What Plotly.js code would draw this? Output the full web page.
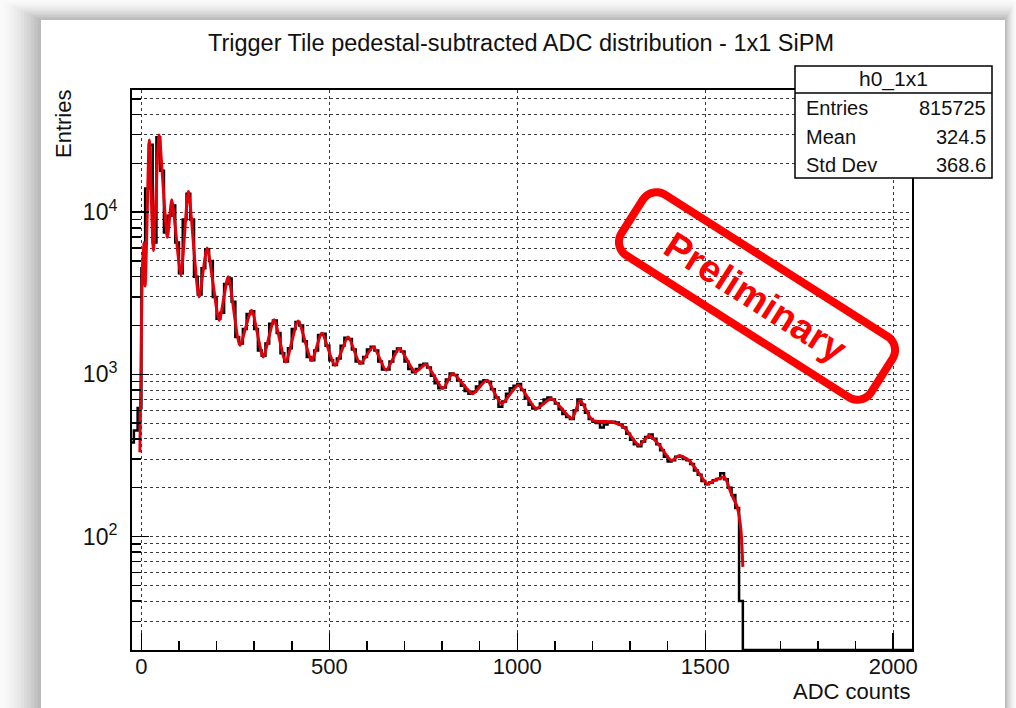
<!DOCTYPE html>
<html><head><meta charset="utf-8">
<script src="https://cdn.plot.ly/plotly-3.0.1.min.js"></script>
<style>html,body{margin:0;padding:0;background:#fff;overflow:hidden}#chart{width:1016px;height:708px}</style>
</head><body><div id="chart"></div>
<script>
// ---------------- data ----------------
const titleText = 'Trigger Tile pedestal-subtracted ADC distribution - 1x1 SiPM';
const xTitle = 'ADC counts';
const yTitle = 'Entries';
// histogram: first bin lower edge and bin width (ADC counts), then counts per bin
const histFirstEdge = -30;
const histBinWidth = 10;
const histCounts = [
  380, 450, 620, 4500, 14000, 26000, 6500, 29000, 18000, 7500,
  9500, 11000, 6500, 4200, 9000, 13000, 9000, 4000, 3100, 4500,
  5900, 5000, 3000, 2200, 2400, 3600, 3900, 2800, 1700, 1550,
  1900, 2350, 2450, 1900, 1400, 1300, 1550, 2050, 2150, 1800,
  1350, 1200, 1450, 1900, 2100, 2000, 1600, 1280, 1220, 1400,
  1750, 1780, 1500, 1220, 1140, 1250, 1500, 1680, 1650, 1420,
  1200, 1170, 1280, 1420, 1480, 1400, 1200, 1070, 1070, 1200,
  1380, 1440, 1380, 1200, 1080, 1030, 1080, 1140, 1160, 1100,
  980, 880, 820, 830, 930, 1010, 990, 920, 850, 790,
  760, 780, 840, 900, 920, 900, 810, 720, 630, 680,
  760, 820, 850, 870, 800, 710, 650, 615, 620, 660,
  700, 720, 700, 660, 610, 570, 545, 530, 600, 700,
  650, 580, 530, 510, 500, 470, 490, 505, 510, 505,
  490, 470, 430, 395, 370, 360, 385, 410, 425, 400,
  370, 340, 310, 290, 295, 310, 310, 300, 295, 280,
  255, 240, 220, 210, 215, 222, 226, 245, 225, 200,
  180, 150, 40
];
const emptyBinsEnd = 2050;   // bins after the last filled one are empty up to here
// fit curve (ADC counts, entries)
const fitX = [-4, -1, 2, 6, 10, 14, 21, 32, 47, 69, 81, 105, 125, 153, 175, 207, 231, 262, 293, 324,
  353, 384, 417, 453, 480, 515, 550, 582, 617, 651, 686, 728, 757, 802, 828, 881, 919, 958, 1003, 1050,
  1091, 1145, 1167, 1200, 1253, 1283, 1324, 1351, 1378, 1410, 1431, 1457, 1484, 1505, 1524, 1551, 1569, 1585, 1595, 1600];
const fitY = [330, 1200, 4000, 6500, 3500, 7000, 27800, 5800, 29900, 7000, 11900, 4080, 13400, 3000, 6000, 2150, 4000, 1510, 2480, 1280,
  2170, 1190, 2130, 1219, 1791, 1137, 1698, 1165, 1476, 1059, 1443, 1034, 1154, 816, 1010, 760, 918, 659, 855, 614,
  708, 533, 692, 520, 508, 473, 365, 420, 365, 294, 316, 294, 244, 211, 222, 232, 184, 152, 109, 65];
const xTickVals = [0, 500, 1000, 1500, 2000];
const yTickVals = [100, 1000, 10000];
const yTickText = ['10<sup>2</sup>', '10<sup>3</sup>', '10<sup>4</sup>'];
const yMinorVals = [20,30,40,50,60,70,80,90,200,300,400,500,600,700,800,900,2000,3000,4000,5000,6000,7000,8000,9000,20000,30000,40000,50000];
const statsName = 'h0_1x1';
const statsLabels = ['Entries', 'Mean', 'Std Dev'];
const statsValues = ['815725', '324.5', '368.6'];
const stampText = 'Preliminary';

// ---------------- geometry ----------------
const W = 1016, H = 708, L = 132, R = 912, T = 90, B = 650;
const xRange = [-25, 2050];
const yRangeLog = [1.30, 4.753];
const px = X => (X - L) / (R - L);
const py = Y => (B - Y) / (B - T);
const FONT = 'Liberation Sans, Arial, Helvetica, sans-serif';

// histogram as step line
const hx = [], hy = [];
histCounts.forEach((c, i) => { hx.push(histFirstEdge + i * histBinWidth); hy.push(c); });
const floorVal = Math.pow(10, yRangeLog[0]);
hx.push(histFirstEdge + histCounts.length * histBinWidth); hy.push(floorVal);
hx.push(emptyBinsEnd); hy.push(floorVal);

const traces = [
  {x: hx, y: hy, type: 'scatter', mode: 'lines', line: {shape: 'hv', color: '#000', width: 2.5}, hoverinfo: 'skip'},
  {x: fitX, y: fitY, type: 'scatter', mode: 'lines', line: {shape: 'spline', smoothing: 0.6, color: '#e2000b', width: 3}, hoverinfo: 'skip'}
];

// ---------------- shapes ----------------
const shapes = [];
// soft frame shadow around the canvas
const N = 12;
for (let k = 0; k < N; k++) {
  const f = k / N;
  const g = Math.round(250 - 72 * Math.pow(f, 1.5));
  const col = `rgb(${g},${g},${g})`;
  shapes.push({type: 'rect', xref: 'paper', yref: 'paper', layer: 'below',
    x0: px(41 * f), x1: px(W - 11 * f), y0: py(H + 5), y1: py(20 * f), fillcolor: col, line: {width: 0}});
}
shapes.push({type: 'rect', xref: 'paper', yref: 'paper', layer: 'below',
  x0: px(41), x1: px(1005), y0: py(H + 5), y1: py(20), fillcolor: '#fff', line: {width: 0}});

// stats box
shapes.push({type: 'rect', xref: 'paper', yref: 'paper', x0: px(795), x1: px(992), y0: py(178), y1: py(66),
  fillcolor: '#fff', line: {color: '#000', width: 1.5}});
shapes.push({type: 'line', xref: 'paper', yref: 'paper', x0: px(795), x1: px(992), y0: py(93), y1: py(93),
  line: {color: '#000', width: 1.5}});

// preliminary stamp (rotated rounded rectangle)
function stampPath(cx, cy, hl, hw, r, angDeg) {
  const a = angDeg * Math.PI / 180, ux = Math.cos(a), uy = Math.sin(a), vx = -Math.sin(a), vy = Math.cos(a);
  const pts = [];
  const corners = [[hl - r, -hw + r, -90, 0], [hl - r, hw - r, 0, 90], [-hl + r, hw - r, 90, 180], [-hl + r, -hw + r, 180, 270]];
  corners.forEach(([lx, ly, a0, a1]) => {
    for (let t = 0; t <= 10; t++) {
      const th = (a0 + (a1 - a0) * t / 10) * Math.PI / 180;
      const x = lx + r * Math.cos(th), y = ly + r * Math.sin(th);
      pts.push([cx + x * ux + y * vx, cy + x * uy + y * vy]);
    }
  });
  return 'M' + pts.map(p => px(p[0]).toFixed(5) + ',' + py(p[1]).toFixed(5)).join('L') + 'Z';
}
const stampCx = 757, stampCy = 296, stampAng = 32.5;
shapes.push({type: 'path', xref: 'paper', yref: 'paper', path: stampPath(stampCx, stampCy, 148, 36, 16, stampAng),
  line: {color: '#ff0000', width: 8}, fillcolor: 'rgba(0,0,0,0)'});

// ---------------- annotations ----------------
const ann = [];
ann.push({xref: 'paper', yref: 'paper', x: px(912), y: py(691), xanchor: 'right', yanchor: 'middle', showarrow: false,
  text: xTitle, font: {family: FONT, size: 22, color: '#111'}});
ann.push({xref: 'paper', yref: 'paper', x: px(63), y: py(124), xanchor: 'center', yanchor: 'middle', showarrow: false,
  text: yTitle, textangle: -90, font: {family: FONT, size: 22, color: '#111'}});
ann.push({xref: 'paper', yref: 'paper', x: px(893), y: py(79.5), xanchor: 'center', yanchor: 'middle', showarrow: false,
  text: statsName, font: {family: FONT, size: 21, color: '#111'}});
const rowY = [108, 137, 165];
statsLabels.forEach((lab, i) => {
  ann.push({xref: 'paper', yref: 'paper', x: px(804), y: py(rowY[i]), xanchor: 'left', yanchor: 'middle', showarrow: false,
    text: lab, font: {family: FONT, size: 20, color: '#111'}});
  ann.push({xref: 'paper', yref: 'paper', x: px(988), y: py(rowY[i]), xanchor: 'right', yanchor: 'middle', showarrow: false,
    text: statsValues[i], font: {family: FONT, size: 20, color: '#111'}});
});
ann.push({xref: 'paper', yref: 'paper', x: px(stampCx - 2), y: py(stampCy + 1), xanchor: 'center', yanchor: 'middle', showarrow: false,
  text: '<b>' + stampText + '</b>', textangle: stampAng, font: {family: FONT, size: 38, color: '#ff0000'}});

const gridStyle = {showgrid: true, gridcolor: '#3a3a3a', griddash: 'dot', gridwidth: 1};
const layout = {
  width: W, height: H,
  margin: {l: L, r: W - R, t: T, b: H - B, pad: 0},
  paper_bgcolor: '#fafafa', plot_bgcolor: 'rgba(0,0,0,0)',
  showlegend: false,
  font: {family: FONT, color: '#111'},
  title: {text: titleText, font: {family: FONT, size: 23.5, color: '#111'}, xref: 'container', yref: 'container',
    x: 521 / W, xanchor: 'center', y: 1 - 43 / H, yanchor: 'middle'},
  xaxis: Object.assign({range: xRange, tickmode: 'array', tickvals: xTickVals, ticks: 'inside', ticklen: 17, tickwidth: 1.5,
    tickcolor: '#000', showline: true, linecolor: '#000', linewidth: 2, mirror: true, zeroline: false,
    ticklabelstandoff: -4,
    tickfont: {family: FONT, size: 22, color: '#111'},
    minor: {dtick: 100, tick0: 0, ticks: 'inside', ticklen: 9, tickwidth: 1.5, tickcolor: '#000', showgrid: false}}, gridStyle),
  yaxis: Object.assign({type: 'log', range: yRangeLog, tickmode: 'array', tickvals: yTickVals, ticktext: yTickText,
    ticks: 'inside', ticklen: 17, tickwidth: 1.5, tickcolor: '#000', showline: true, linecolor: '#000', linewidth: 2, mirror: true,
    zeroline: false, ticklabelstandoff: 8, tickfont: {family: FONT, size: 23, color: '#111'},
    minor: {tickmode: 'array', tickvals: yMinorVals, ticks: 'inside', ticklen: 9, tickwidth: 1.5, tickcolor: '#000',
      showgrid: true, gridcolor: '#3a3a3a', griddash: 'dot', gridwidth: 1}}, gridStyle),
  shapes: shapes,
  annotations: ann
};
Plotly.newPlot('chart', traces, layout, {staticPlot: true, displayModeBar: false});
</script>
</body></html>
